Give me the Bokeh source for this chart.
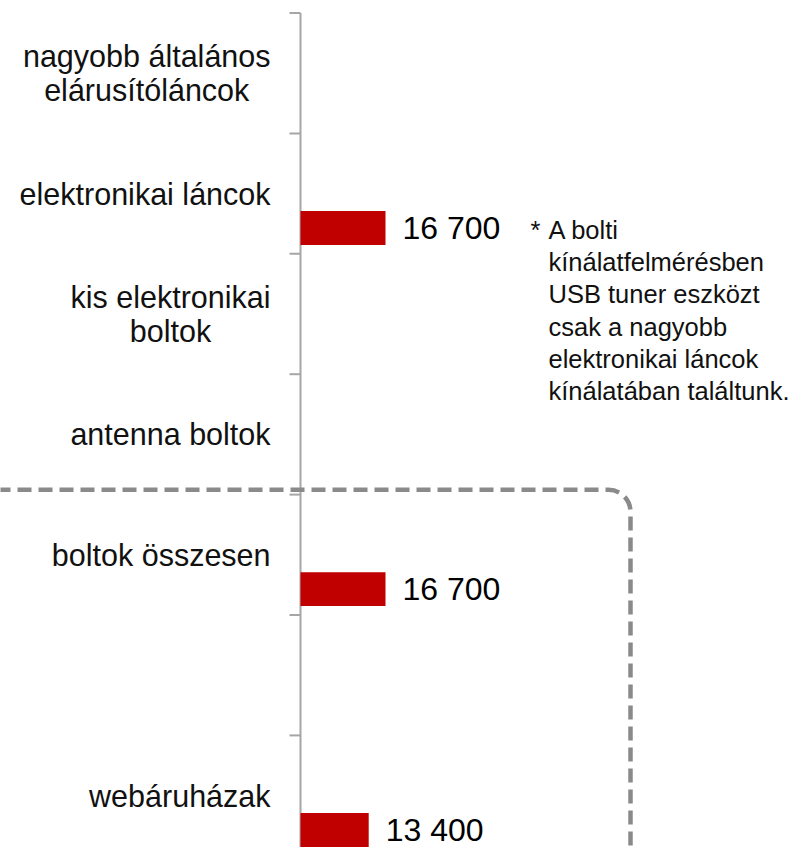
import numpy as np
from bokeh.plotting import figure
from bokeh.models import Range1d, BoxAnnotation, Label
from bokeh.embed import file_html
from bokeh.resources import INLINE
from bokeh.core.properties import value

# ---- data ----
categories = [
    "nagyobb általános\nelárusítóláncok",
    "elektronikai láncok",
    "kis elektronikai\nboltok",
    "antenna boltok",
    "boltok összesen",
    "",
    "webáruházak",
]
values = [np.nan, 16700, np.nan, np.nan, 16700, np.nan, 13400]
footnote_mark = "*"
footnote_lines = [
    "A bolti",
    "kínálatfelmérésben",
    "USB tuner eszközt",
    "csak a nagyobb",
    "elektronikai láncok",
    "kínálatában találtunk.",
]

# ---- layout constants ----
W, H = 794, 847
AXIS_PX = 300             # x pixel of the category axis inside the figure
PX_PER_UNIT = 85 / 16700  # horizontal scale
SLOT_PX = 120.4           # height of one category slot
TOP_PX = 12.5             # pixel of the first slot boundary
FONT = "Liberation Sans"
CAT_FS = 30.5
CAT_LINE_PX = 34.5
LABEL_GAP = 30

# approximate advance widths (per em) of Liberation Sans, used to centre
# the lines of a multi-line category label inside its right-aligned block
_W = {c: 0.556 for c in "abdeghnopquáéóöőúüű"}
_W.update({c: 0.5 for c in "cksvxyz"})
_W.update({c: 0.222 for c in "ijl"})
_W.update({c: 0.278 for c in "ft í"})
_W.update({"r": 0.333, "m": 0.833, "w": 0.722})


def text_w(s, fs):
    return sum(_W.get(c, 0.556) for c in s) * fs


x_start = -AXIS_PX / PX_PER_UNIT
x_end = (W - AXIS_PX) / PX_PER_UNIT
y_top = -TOP_PX / SLOT_PX
y_bottom = (H - TOP_PX) / SLOT_PX

p = figure(
    width=W, height=H,
    x_range=Range1d(x_start, x_end),
    y_range=Range1d(y_bottom, y_top),
    output_backend="svg", toolbar_location=None,
    x_axis_type=None, y_axis_type=None,
    min_border=0, outline_line_color=None,
    background_fill_color="white", border_fill_color="white",
)

n = len(categories)
vals = np.array(values, dtype=float)
idx = np.arange(n)
centers = idx + 0.5
bar_y = centers + 0.285
mask = ~np.isnan(vals)

# dashed rounded frame around the "total" section
box = BoxAnnotation(
    left=x_start - 100000, right=330 / PX_PER_UNIT,
    top=3.96, bottom=y_bottom + 2,
    border_radius=22,
    fill_alpha=0, line_alpha=1, line_color="#8A8A8A", line_width=4.5,
    line_dash="14 7",
)
p.add_layout(box)

# category axis line and ticks at slot boundaries
axis_col = "#A6A6A6"
p.segment(x0=[0], y0=[0], x1=[0], y1=[n + 1], line_color=axis_col, line_width=2)
p.ray(x=np.zeros(n + 1), y=np.arange(n + 1), length=11, length_units="screen",
      angle=np.pi, line_color=axis_col, line_width=2)

# bars
p.hbar(y=bar_y[mask], left=0, right=vals[mask], height=0.282,
       fill_color="#C00000", line_color=None)

# category labels: block right-aligned to the axis, lines centred in block
lx, ly, lt, loff = [], [], [], []
for c, cy in zip(categories, centers):
    lines = c.split("\n")
    block = max(text_w(s, CAT_FS) for s in lines)
    for i, s in enumerate(lines):
        lx.append(0)
        ly.append(cy + (i - (len(lines) - 1) / 2) * CAT_LINE_PX / SLOT_PX)
        lt.append(s)
        loff.append(-(LABEL_GAP + block / 2))
p.text(x=lx, y=ly, text=lt, x_offset=loff,
       text_align="center", text_baseline="middle",
       text_font=value(FONT), text_font_size=f"{CAT_FS}px", text_color="#111111")

# value labels
labels = [f"{int(v):,}".replace(",", " ") for v in vals[mask]]
p.text(x=vals[mask], y=bar_y[mask], text=labels, x_offset=17,
       text_align="left", text_baseline="middle",
       text_font=value(FONT), text_font_size="32px", text_color="#000000")

# footnote
fn_y = 1.686
p.add_layout(Label(x=230 / PX_PER_UNIT, y=fn_y, text=footnote_mark,
                   text_align="left", text_baseline="top",
                   text_font=FONT, text_font_size="25.5px", text_color="#111111"))
p.add_layout(Label(x=248 / PX_PER_UNIT, y=fn_y, text="\n".join(footnote_lines),
                   text_align="left", text_baseline="top",
                   text_font=FONT, text_font_size="25.5px", text_color="#111111",
                   text_line_height=1.15))

open("out.html", "w").write(file_html(p, INLINE))
